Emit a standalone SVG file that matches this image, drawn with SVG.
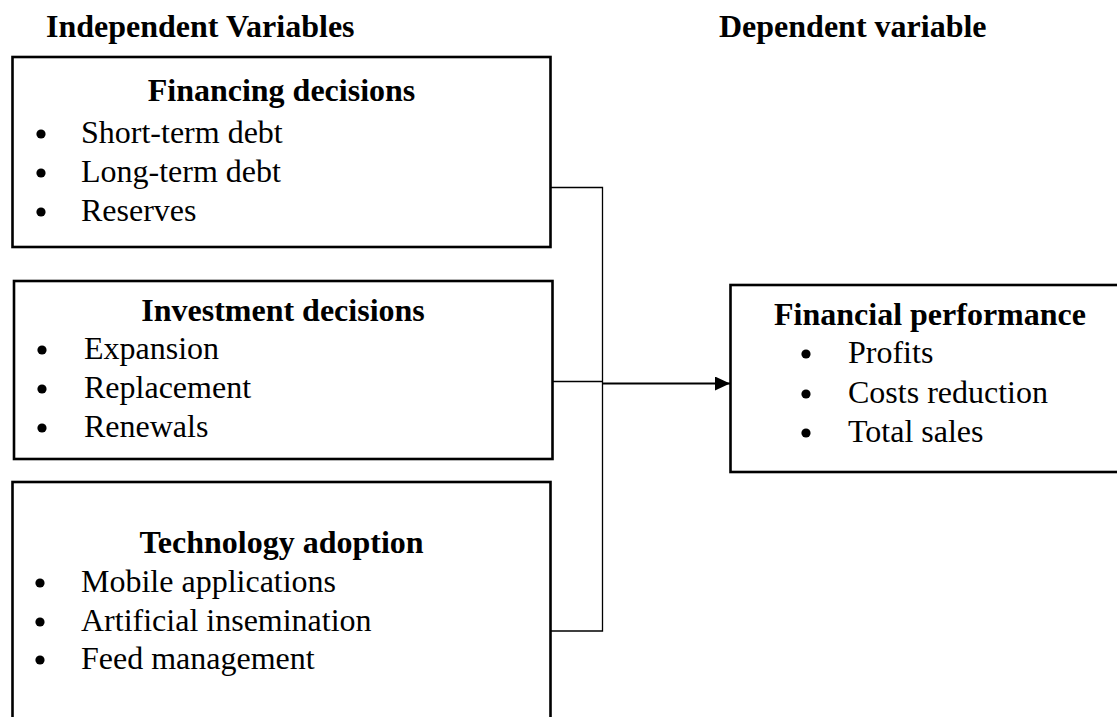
<svg xmlns="http://www.w3.org/2000/svg" width="1117" height="717" viewBox="0 0 1117 717">
<style>
.box{fill:#fff;stroke:#000;stroke-width:2.6}
.h{font-family:"Liberation Serif","Times New Roman",serif;font-size:32px;font-weight:bold;fill:#000}
.t{font-family:"Liberation Serif","Times New Roman",serif;font-size:32px;fill:#000}
.c{fill:none;stroke:#000;stroke-width:1.3}
.a{fill:none;stroke:#000;stroke-width:2.2}
.b{fill:#000}
</style>
<defs>
<marker id="arr" markerUnits="userSpaceOnUse" markerWidth="16" markerHeight="16" refX="15" refY="7" orient="auto">
<path d="M0,0 L15,7 L0,14 z" fill="#000"/>
</marker>
</defs>
<rect width="1117" height="717" fill="#fff"/>
<text class="h" x="46" y="37">Independent Variables</text>
<text class="h" x="719" y="37">Dependent variable</text>
<g id="connectors">
<path class="c" d="M550,187.5 H602.5 V631 H550"/>
<path class="c" d="M552,381.5 H602.5"/>
<path class="a" d="M602.5,383.5 H730" marker-end="url(#arr)"/>
</g>
<g id="financing">
<rect class="box" x="12.5" y="57" width="538" height="190"/>
<text class="h" x="281.5" y="101" text-anchor="middle">Financing decisions</text>
<circle class="b" cx="41" cy="134" r="4.6"/><text class="t" x="81" y="143">Short-term debt</text>
<circle class="b" cx="41" cy="173" r="4.6"/><text class="t" x="81" y="182">Long-term debt</text>
<circle class="b" cx="41" cy="212" r="4.6"/><text class="t" x="81" y="221">Reserves</text>
</g>
<g id="investment">
<rect class="box" x="14" y="281" width="538.5" height="178"/>
<text class="h" x="283" y="321" text-anchor="middle">Investment decisions</text>
<circle class="b" cx="42" cy="350" r="4.6"/><text class="t" x="84" y="359">Expansion</text>
<circle class="b" cx="42" cy="389" r="4.6"/><text class="t" x="84" y="398">Replacement</text>
<circle class="b" cx="42" cy="428" r="4.6"/><text class="t" x="84" y="437">Renewals</text>
</g>
<g id="technology">
<rect class="box" x="12.5" y="482" width="538" height="260"/>
<text class="h" x="281.5" y="553" text-anchor="middle">Technology adoption</text>
<circle class="b" cx="40" cy="583" r="4.6"/><text class="t" x="81" y="592">Mobile applications</text>
<circle class="b" cx="40" cy="622" r="4.6"/><text class="t" x="81" y="631">Artificial insemination</text>
<circle class="b" cx="40" cy="660" r="4.6"/><text class="t" x="81" y="669">Feed management</text>
</g>
<g id="performance">
<rect class="box" x="730.5" y="285" width="420" height="187"/>
<text class="h" x="774" y="325">Financial performance</text>
<circle class="b" cx="806" cy="354" r="4.6"/><text class="t" x="848" y="363">Profits</text>
<circle class="b" cx="806" cy="394" r="4.6"/><text class="t" x="848" y="403">Costs reduction</text>
<circle class="b" cx="806" cy="433" r="4.6"/><text class="t" x="848" y="442">Total sales</text>
</g>
</svg>
